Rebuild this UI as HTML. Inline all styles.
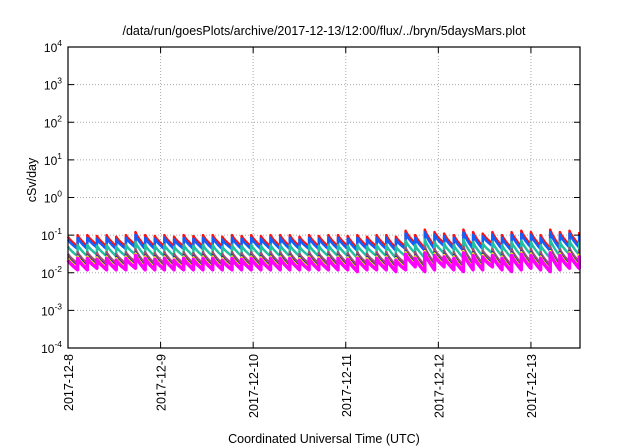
<!DOCTYPE html>
<html><head><meta charset="utf-8"><style>
body{margin:0;background:#fff;}
svg{display:block;font-family:"Liberation Sans",sans-serif;}
</style></head><body>
<svg id="chart" width="640" height="448" viewBox="0 0 640 448">
<text x="324" y="35" text-anchor="middle" font-size="12.5">/data/run/goesPlots/archive/2017-12-13/12:00/flux/../bryn/5daysMars.plot</text>
<text transform="translate(36,180) rotate(-90)" text-anchor="middle" font-size="12.5">cSv/day</text>
<text x="324" y="443" text-anchor="middle" font-size="12.5">Coordinated Universal Time (UTC)</text>
<g id="grid"></g><g id="series"></g><g id="axes"></g>
</svg>
<script>
const yTickExps=[4,3,2,1,0,-1,-2,-3,-4];
const xTickLabels=["2017-12-8","2017-12-9","2017-12-10","2017-12-11","2017-12-12","2017-12-13"];
const seriesColors=["#ff1010","#1060ff","#20c0a0","#a05070","#2030a0","#ffee00","#ff00ff"];
const seriesRatios=[1.0,0.85,0.55,0.35,0.29,0.27,0.24];
// per 2.5-hour cycle: peak and trough of top (red) series, cSv/day
const cyclePeaks=[0.09,0.1,0.1,0.095,0.1,0.09,0.1,0.12,0.1,0.095,0.1,0.09,0.1,0.095,0.1,0.1,0.09,0.1,0.095,0.1,0.095,0.1,0.1,0.1,0.09,0.1,0.095,0.1,0.1,0.095,0.1,0.09,0.1,0.1,0.09,0.13,0.1,0.14,0.12,0.11,0.1,0.14,0.12,0.11,0.12,0.1,0.12,0.13,0.12,0.1,0.14,0.12,0.13,0.12,0.11,0.12,0.13,0.13,0.12,0.11,0.13,0.12,0.14,0.13,0.12,0.12,0.13];
const cycleTroughs=[0.05,0.05,0.055,0.05,0.05,0.05,0.055,0.05,0.05,0.05,0.05,0.05,0.05,0.05,0.05,0.05,0.05,0.05,0.05,0.05,0.05,0.05,0.05,0.05,0.05,0.05,0.05,0.05,0.05,0.045,0.05,0.05,0.05,0.045,0.05,0.06,0.045,0.05,0.06,0.05,0.045,0.05,0.05,0.06,0.05,0.045,0.05,0.055,0.05,0.045,0.05,0.055,0.055,0.05,0.045,0.055,0.06,0.05,0.05,0.05,0.05,0.055,0.06,0.05,0.05,0.05,0.055];
const cycleHours=2.5, totalDays=5.53;
const L=68,R=580,T=47,B=348;
const xs=d=>L+d*(R-L)/totalDays;
const ys=v=>T+(4-Math.log10(v))*(B-T)/8;
const NS="http://www.w3.org/2000/svg";
function mk(tag,attrs,parent){const e=document.createElementNS(NS,tag);for(const k in attrs)e.setAttribute(k,attrs[k]);parent.appendChild(e);return e;}
const grid=document.getElementById('grid'),axes=document.getElementById('axes'),ser=document.getElementById('series');
yTickExps.forEach(ex=>{
  const y=ys(Math.pow(10,ex));
  if(ex<4&&ex>-4){const g=mk('line',{x1:L,x2:R,y1:y,y2:y,stroke:'#aaa','stroke-dasharray':'1,2','stroke-width':1},grid);
  
  }
  const t1=mk('line',{x1:L,x2:L+6,y1:y,y2:y,stroke:'#000'},axes);
  
  
  mk('line',{x1:R-6,x2:R,y1:y,y2:y,stroke:'#000'},axes);
  const tx=mk('text',{x:L-6,y:y+5,'text-anchor':'end','font-size':'12'},axes);
  tx.innerHTML='10<tspan dy="-6" font-size="8.5">'+ex+'</tspan>';
  
  
});
xTickLabels.forEach((lab,i)=>{
  const x=xs(i);
  if(i>0){const g=mk('line',{x1:x,x2:x,y1:T,y2:B,stroke:'#aaa','stroke-dasharray':'1,2'},grid);
  
  }
  mk('line',{x1:x,x2:x,y1:B,y2:B-6,stroke:'#000'},axes);
  mk('line',{x1:x,x2:x,y1:T,y2:T+6,stroke:'#000'},axes);
  const tx=mk('text',{transform:`translate(${x+5},354) rotate(-90)`,'text-anchor':'end','font-size':'12.5'},axes);
  tx.textContent=lab;
  
  
});
const fr=mk('rect',{x:L,y:T,width:R-L,height:B-T,fill:'none',stroke:'#000','stroke-width':1.2},axes);


const nC=Math.ceil(totalDays*24/cycleHours);
seriesColors.forEach((c,si)=>{
  let pts=[];
  for(let k=0;k<nC&&k<cyclePeaks.length;k++){
    const d0=k*cycleHours/24,d1=(k+1)*cycleHours/24;
    const p=cyclePeaks[k]*seriesRatios[si],q=cycleTroughs[k]*seriesRatios[si];
    for(let j=0;j<=8;j++){
      const f=j/8,d=d0+f*(d1-d0);if(d>totalDays)break;
      const v=p*Math.pow(q/p,Math.pow(f,0.8));
      pts.push(xs(d).toFixed(1)+','+ys(v).toFixed(1));
    }
  }
  const pl=mk('polyline',{points:pts.join(' '),fill:'none',stroke:c,'stroke-width':si==6?3.5:2.5,'stroke-linejoin':'round'},ser);
  
  
});
</script>
</body></html>
